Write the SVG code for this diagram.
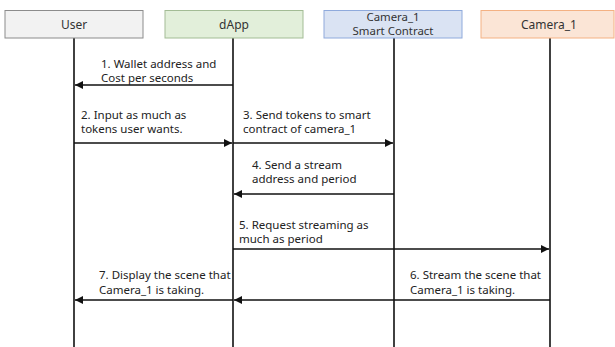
<svg xmlns="http://www.w3.org/2000/svg" width="615" height="347" viewBox="0 0 615 347">
<style>
text{font-family:"Noto Sans","Open Sans",sans-serif;font-size:11.5px;fill:#222}
.hd{text-anchor:middle;font-size:12px;fill:#333}
.hd2{text-anchor:middle;font-size:11.4px;fill:#333}
.life{stroke:#111;stroke-width:1.6}
.msg{stroke:#111;stroke-width:1.6;fill:none}
</style>
<defs>
<marker id="ah" viewBox="0 0 10 10" refX="10" refY="5" markerWidth="9" markerHeight="8" markerUnits="userSpaceOnUse" orient="auto"><path d="M0,0 L10,5 L0,10 Z" fill="#111"/></marker>
</defs>
<rect width="615" height="347" fill="#fff"/>
<g id="lifelines">
<line class="life" x1="74" y1="38" x2="74" y2="347"/>
<line class="life" x1="233" y1="38" x2="233" y2="347"/>
<line class="life" x1="394" y1="38" x2="394" y2="347"/>
<line class="life" x1="550" y1="38" x2="550" y2="347"/>
</g>
<g id="user"><rect x="5" y="10.5" width="138" height="27.5" fill="#f2f2f2" stroke="#8c8c8c"/><text class="hd" x="74" y="28.5">User</text></g>
<g id="dapp"><rect x="165" y="10.5" width="138" height="27.5" fill="#e2efda" stroke="#a3bc95"/><text class="hd" x="234" y="28.5">dApp</text></g>
<g id="contract"><rect x="324" y="10.5" width="138" height="27.5" fill="#dae3f3" stroke="#8faadc"/><text class="hd2" x="393" y="21.3">Camera_1</text><text class="hd2" x="393" y="35.3">Smart Contract</text></g>
<g id="camera"><rect x="481" y="10.5" width="133" height="27.5" fill="#fbe5d6" stroke="#f4b183"/><text class="hd" x="549" y="28.5">Camera_1</text></g>
<g id="connectors">
<line class="msg" x1="233" y1="85" x2="75" y2="85" marker-end="url(#ah)"/>
<line class="msg" x1="74" y1="143" x2="232" y2="143" marker-end="url(#ah)"/>
<line class="msg" x1="233" y1="143" x2="393" y2="143" marker-end="url(#ah)"/>
<line class="msg" x1="394" y1="194" x2="234" y2="194" marker-end="url(#ah)"/>
<line class="msg" x1="233" y1="249" x2="549" y2="249" marker-end="url(#ah)"/>
<line class="msg" x1="550" y1="300" x2="234" y2="300" marker-end="url(#ah)"/>
<line class="msg" x1="233" y1="300" x2="75" y2="300" marker-end="url(#ah)"/>
</g>
<g id="labels">
<text x="101" y="68">1. Wallet address and</text><text x="101" y="82">Cost per seconds</text>
<text x="81" y="119">2. Input as much as</text><text x="81" y="133">tokens user wants.</text>
<text x="243" y="119">3. Send tokens to smart</text><text x="243" y="133">contract of camera_1</text>
<text x="252" y="169">4. Send a stream</text><text x="252" y="183">address and period</text>
<text x="239" y="229">5. Request streaming as</text><text x="239" y="243">much as period</text>
<text x="410" y="279">6. Stream the scene that</text><text x="410" y="294">Camera_1 is taking.</text>
<text x="99" y="279">7. Display the scene that</text><text x="99" y="294">Camera_1 is taking.</text>
</g>
</svg>
